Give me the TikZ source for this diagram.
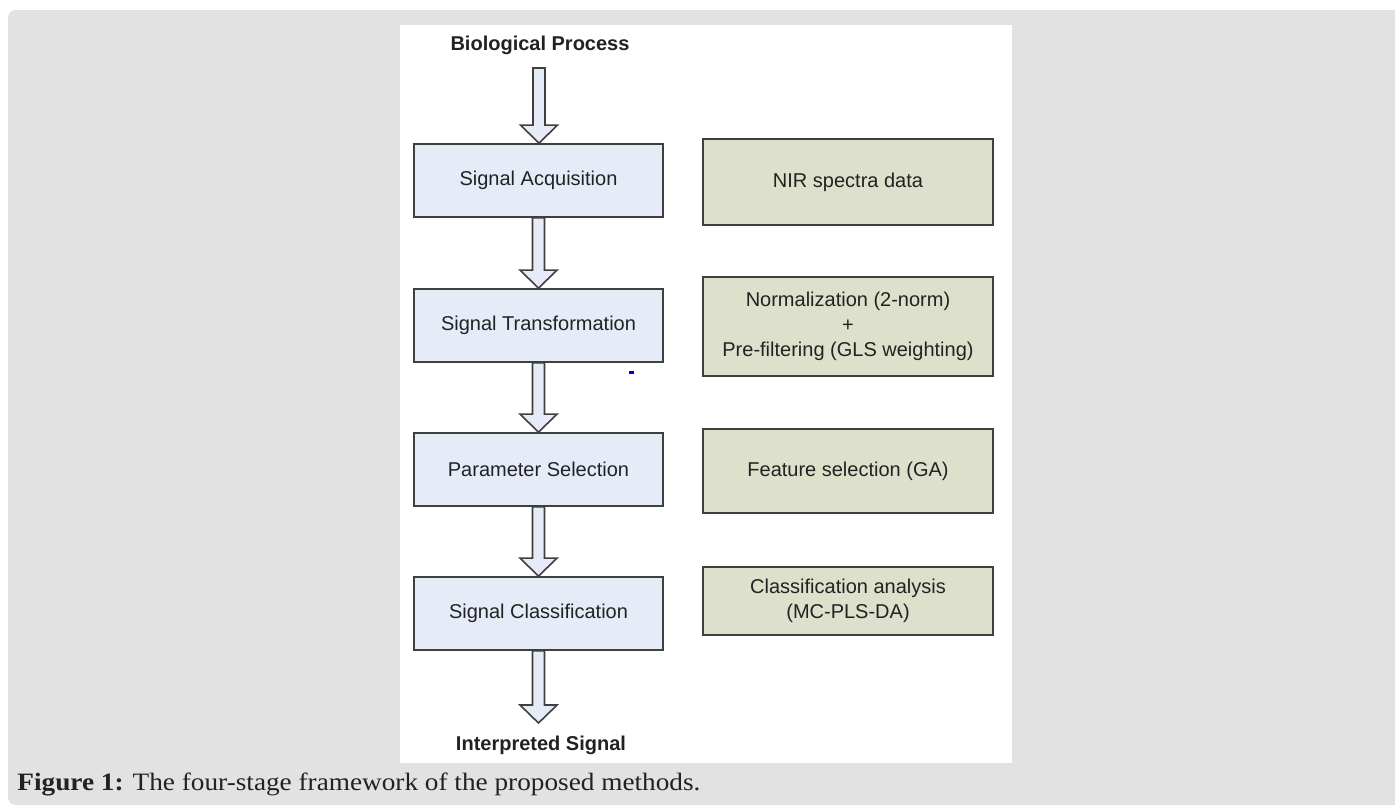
\documentclass[tikz,border=0pt]{standalone}
\usepackage{fontspec}
\setmainfont{Liberation Serif}
\newfontfamily\arialfont{Liberation Sans}
\usetikzlibrary{calc}
\definecolor{bggray}{HTML}{E2E2E2}
\definecolor{bluefill}{HTML}{E6ECF7}
\definecolor{olivefill}{HTML}{DDE0CA}
\definecolor{edgegray}{HTML}{3F3F3F}
\definecolor{txt}{HTML}{222222}
\tikzset{
  stagebox/.style={draw=edgegray, line width=0.9pt, fill=bluefill, minimum width=124.5pt, minimum height=36.5pt, inner sep=0pt, text=txt, font=\arialfont\fontsize{10pt}{12.5pt}\selectfont, align=center},
  methodbox/.style={draw=edgegray, line width=0.9pt, fill=olivefill, minimum width=145pt, inner sep=0pt, text=txt, font=\arialfont\fontsize{10pt}{12.5pt}\selectfont, align=center},
  endlabel/.style={text=txt, font=\arialfont\bfseries\fontsize{10pt}{12pt}\selectfont, inner sep=0pt},
  blockarrow/.style={draw=edgegray, line width=0.8pt, fill=bluefill, line join=miter},
}
\newcommand\blkarrow[2]{%
  \path[blockarrow] let \p1=(#1), \p2=(#2) in
    (\x1-3pt,\y1) -- (\x1-3pt,\y2+9pt) -- (\x1-9.25pt,\y2+9pt) -- (\x1,\y2)
    -- (\x1+9.25pt,\y2+9pt) -- (\x1+3pt,\y2+9pt) -- (\x1+3pt,\y1) -- cycle;}
\begin{document}
\begin{tikzpicture}[x=0.5pt,y=-0.5pt]
\useasboundingbox (0,0) rectangle (1395,805);
\fill[white] (0,0) rectangle (1395,805);
\fill[bggray, rounded corners=4pt] (8,10) rectangle (1420,805);
\fill[white] (400,25) rectangle (1012,763);

% stages
\node[endlabel] (bio) at (540,45) {Biological Process};
\node[stagebox] (sa) at (538.5,180.5) {Signal Acquisition};
\node[stagebox] (st) at (538.5,325.5) {Signal Transformation};
\node[stagebox] (ps) at (538.5,469.5) {Parameter Selection};
\node[stagebox] (sc) at (538.5,613.5) {Signal Classification};
\node[endlabel] (out) at (541,745) {Interpreted Signal};

% methods
\node[methodbox, minimum height=43pt] (nir) at (848,182) {NIR spectra data};
\node[methodbox, minimum height=49.5pt] (norm) at (848,326.5) {Normalization (2-norm)\\+\\Pre-filtering (GLS weighting)};
\node[methodbox, minimum height=42pt] (feat) at (848,471) {Feature selection (GA)};
\node[methodbox, minimum height=34pt] (cls) at (848,601) {Classification analysis\\(MC-PLS-DA)};

% arrows
\coordinate (a0) at (539,68);
\coordinate (a5) at (539,723);
\blkarrow{a0}{sa.north}
\blkarrow{sa.south}{st.north}
\blkarrow{st.south}{ps.north}
\blkarrow{ps.south}{sc.north}
\blkarrow{sc.south}{a5}

% small blue mark
\fill[blue!85!black] (628.5,370.5) rectangle (634,374);

% caption
\node[anchor=base west, inner sep=0pt, text=txt, font=\fontsize{12.5pt}{15pt}\selectfont] (cap) at (17,790) {\scalebox{1.09}[1]{\textbf{Figure 1:} The four-stage framework of the proposed methods.}};
\end{tikzpicture}
\end{document}
